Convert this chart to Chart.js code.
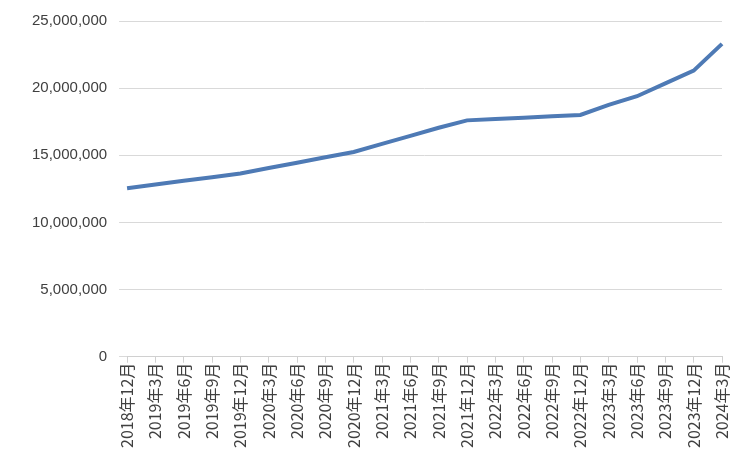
<!DOCTYPE html>
<html><head><meta charset="utf-8">
<script src="https://cdn.jsdelivr.net/npm/chart.js@4"></script>
<style>body{margin:0;background:#fff}#wrap{width:752px;height:452px}</style>
</head><body><div id="wrap"><canvas id="c"></canvas></div>
<script>
const labels = ['2018年12月','2019年3月','2019年6月','2019年9月','2019年12月','2020年3月','2020年6月','2020年9月','2020年12月','2021年3月','2021年6月','2021年9月','2021年12月','2022年3月','2022年6月','2022年9月','2022年12月','2023年3月','2023年6月','2023年9月','2023年12月','2024年3月'];
const values = [12550000,12830000,13100000,13370000,13650000,14050000,14450000,14850000,15250000,15850000,16450000,17050000,17600000,17700000,17800000,17900000,18000000,18750000,19400000,20350000,21300000,23300000];
const yTicks = [0,5000000,10000000,15000000,20000000,25000000];

new Chart(document.getElementById('c'), {
    type: 'line',
    data: {
        labels,
        datasets: [{
            data: values,
            borderColor: '#4e7ab5',
            borderWidth: 4,
            pointRadius: 0,
            tension: 0
        }]
    },
    options: {
        responsive: true,
        maintainAspectRatio: false,
        animation: false,
        layout: { padding: { top: 21, right: 30, left: 20, bottom: 4 } },
        plugins: { legend: { display: false }, tooltip: { enabled: false } },
        scales: {
            x: {
                offset: false,
                grid: { display: true, drawOnChartArea: false, color: '#d0d0d0', tickLength: 6 },
                border: { color: '#d0d0d0' },
                ticks: {
                    color: '#404040', font: { size: 16, family: 'Noto Sans CJK SC' },
                    maxRotation: 90, minRotation: 90, autoSkip: false, padding: 0
                }
            },
            y: {
                min: 0, max: 25000000,
                afterBuildTicks: axis => { axis.ticks = yTicks.map(v => ({ value: v })); },
                grid: { color: '#d9d9d9' },
                border: { display: false },
                ticks: {
                    color: '#404040', font: { size: 15, family: 'Liberation Sans' }, padding: 12,
                    callback: v => v.toLocaleString('en-US')
                }
            }
        }
    }
});
</script></body></html>
